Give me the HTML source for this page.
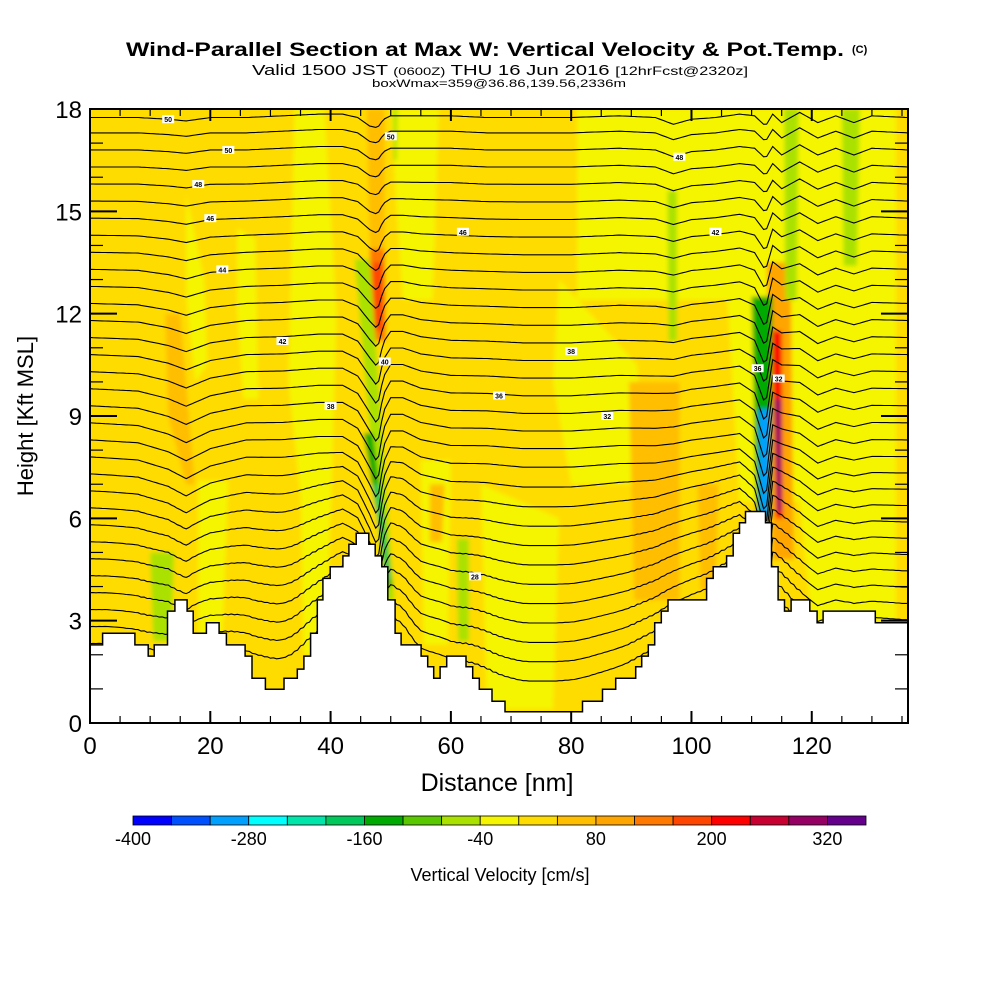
<!DOCTYPE html>
<html><head><meta charset="utf-8"><style>
html,body{margin:0;padding:0;background:#fff;}
svg{display:block;font-family:"Liberation Sans",sans-serif;}
</style></head><body>
<svg id="chart" width="1000" height="1000" viewBox="0 0 1000 1000">
<defs>
<clipPath id="plotclip"><rect x="90" y="109" width="818" height="614"/></clipPath>
<filter id="soft" x="-5%" y="-5%" width="110%" height="110%"><feGaussianBlur stdDeviation="2"/></filter>
</defs>
<g>
<text x="126" y="56" font-size="19" font-weight="bold" textLength="718" lengthAdjust="spacingAndGlyphs">Wind-Parallel Section at Max W: Vertical Velocity &amp; Pot.Temp.</text>
<text x="852" y="53" font-size="11" font-weight="bold">(C)</text>
<text x="252" y="75" font-size="15" textLength="496" lengthAdjust="spacingAndGlyphs">Valid 1500 JST <tspan font-size="11">(0600Z)</tspan> THU 16 Jun 2016 <tspan font-size="12">[12hrFcst@2320z]</tspan></text>
<text x="372" y="87" font-size="11" textLength="254" lengthAdjust="spacingAndGlyphs">boxWmax=359@36.86,139.56,2336m</text>
</g>
<g clip-path="url(#plotclip)">
<g id="field" filter="url(#soft)"></g>
<g id="contours"></g>
<g id="clabels"></g>
<path id="terrain" fill="#fff" stroke="#000" stroke-width="1.5"/>
</g>
<rect x="90" y="109" width="818" height="614" fill="none" stroke="#000" stroke-width="2"/>
<g id="axes"></g>
<text x="497" y="791" font-size="25" text-anchor="middle">Distance [nm]</text>
<text transform="translate(33,416) rotate(-90)" font-size="22" text-anchor="middle">Height [Kft MSL]</text>
<g id="colorbar"></g>
<text x="500" y="881" font-size="18" text-anchor="middle">Vertical Velocity [cm/s]</text>
</svg>
<script>
// ---- data ----
const xTicks = [0,20,40,60,80,100,120];
const yTicks = [0,3,6,9,12,15,18];
const cbBins = [-400,-360,-320,-280,-240,-200,-160,-120,-80,-40,0,40,80,120,160,200,240,280,320];
const cbColors = ["#0000ff","#0050ff","#00a0ff","#00ffff","#00e6aa","#00c85a","#00aa00","#5ac800","#aae100","#f5f500","#ffdc00","#ffbe00","#ffa500","#ff7800","#ff4600","#ff0000","#c80032","#960064","#64008c"];
const cbLabels = [-400,-280,-160,-40,80,200,320];
const terrainNm = [0,2.1,7.47,9.68,10.68,12.89,14.11,16.15,17.15,19.36,21.47,22.68,25.78,26.94,29.16,32.25,34.47,35.57,36.68,37.79,38.73,39.94,42.05,43.04,44.26,46.36,47.41,48.52,49.52,50.73,51.73,55.05,56.15,57.15,58.2,59.31,62.52,63.62,64.73,66.83,68.99,81.88,85.2,87.41,90.73,91.73,92.83,93.89,94.99,96.1,102.52,103.62,105.84,106.94,107.99,108.99,112.31,113.3,114.41,115.46,116.57,119.67,120.89,121.88,130.57];
const terrainKft = [2.29,2.63,2.29,1.96,2.29,3.28,3.61,3.28,2.63,2.94,2.63,2.29,1.96,1.31,0.99,1.31,1.58,1.96,2.63,3.61,4.24,4.58,4.90,5.24,5.56,5.24,4.90,4.58,3.61,2.63,2.29,1.96,1.65,1.31,1.65,1.96,1.65,1.31,0.99,0.64,0.33,0.64,0.99,1.31,1.65,1.96,2.29,2.94,3.28,3.61,4.24,4.58,4.90,5.56,5.87,6.20,5.87,4.58,3.61,3.28,3.61,3.28,2.94,3.28,2.94];
const thetaBase = [2.3,2.8,3.3,3.8,4.3,4.8,5.3,5.8,6.3,6.8,7.3,7.8,8.3,8.8,9.3,9.8,10.3,10.8,11.3,11.8,12.3,12.8,13.3,13.8,14.3,14.8,15.3,15.8,16.3,16.8,17.3,17.75];
const dispNm  = [0,8,13,16,20,26,32,38,42,44.5,46.5,47.8,48.8,50,52,55,60,66,72,80,88,94,97,100,104,108,110.5,112.3,113.5,115,118,121,124,127,130,136];
const dispMid = [0,-0.1,-0.4,-0.7,-0.3,0,0,0.1,0.1,-0.2,-0.9,-1.4,-0.2,0.3,0.3,0,-0.2,-0.2,-0.3,-0.3,-0.2,-0.2,-0.1,0,0.1,0.2,-0.2,-1.4,0.5,0.4,0.2,-0.2,0,-0.1,0,0];
const dispTop = [0,0,-0.05,-0.1,0,0,0.05,0.1,0.1,0,-0.25,-0.3,-0.05,0.05,0.05,0.05,0.05,0,0,0,0.05,0,-0.2,-0.05,0,0.1,0.05,-0.25,0.1,-0.15,0.15,-0.15,0.05,-0.15,0.05,0];
// vertical-velocity patches (nm, kft polygons, w in cm/s)
const patchW   = [-20,-20,-20,-20,-20,-20,-20,-20,-20,-20,-20,-20,60,60,60,60,60,120,180,100,220,300,-140,-320,-60,-140,-200,-60,-60,-60,-60,-60,-60];
const patchNm  = [
 [16,19,19.5,17.5,16],[24.5,27.5,28,25.5,24.5],[34,39,41,40,36,33],[50,58,57,52,51],[78,91,92,80,77],[65,78,77,66],
 [81,134,134,81],[106,134,134,108],[18,23,22,18],[35,40,39.5,35.5],[55,60,59.5,55.5],[118,134,134,120],
 [12.5,15,17.4,16,13],[46,49,49,46.5],[89.6,98,98,90.5],[101,104.5,104,101.5],[56.5,59,58.5,56.5],
 [46.5,49,49.2,47],[47,48.6,48.8,47.3],[112.5,116.5,117,113.5],[113.4,115,115.2,114],[113.8,114.9,115,114.2],
 [110,113.5,113.2,110.8],[111.2,113,112.7,111.4],
 [44,46.5,50.6,49],[45.5,47,50.3,49.5],[47,48,50,49.4],[10,14,13.5,10.5],[61,63,63,61.2],[96,97.6,97.6,96.2],[115.4,117.8,117.5,115.6],[125,128,127.5,125.3],[50.4,51.1,51,50.5]];
const patchKft = [
 [15.5,13,10.5,10,12.5],[14.5,14.2,9.5,9.5,12],[18,18,12,6,5,10],[18,18,12.4,12.4,15],[13,10.5,7,7,10],[7,6,0.4,0.4],
 [18,18,12.4,12.4],[12.4,12.4,6.5,6.5],[7.1,7.1,2.4,2.4],[7,7,2,2],[7.7,7.7,2.3,2.3],[6.5,6.5,3,3],
 [12,12,7,7,9],[18,18,13.9,13.9],[10,10,3.6,3.6],[7,7,3.9,3.9],[7,7,5.3,5.3],
 [13.9,13.9,11.2,11.2],[13.5,13.5,11.5,11.5],[13.5,13.5,4.8,4.8],[11.5,11.5,6,6],[9.5,9.5,6.2,6.2],
 [12.5,12.5,6,6],[9.2,9.2,6,6],
 [13.6,13.6,3.6,3.6],[8.5,8.5,4,4],[7,7,4.2,4.2],[5,5,2.4,2.4],[5.4,5.4,2.4,2.4],[15.6,15.6,11.2,11.2],[18,18,12.4,12.4],[18,18,13.4,13.4],[18,18,16.5,16.5]];
const labelNm  = [13,23,18,20,22,32,40,50,62,68,80,86,98,104,111,114.5,49,64];
const labelKft = [17.7,16.8,15.8,14.8,13.3,11.2,9.3,17.2,14.4,9.6,10.9,9.0,16.6,14.4,10.4,10.1,10.6,4.3];
const labelTxt = ["50","50","48","46","44","42","38","50","46","36","38","32","48","42","36","32","40","28"];

// ---- scales ----
const X0=90,X1=908,Y0=723,Y1=109,NMAX=136,KMAX=18;
const sx = nm => X0 + nm*(X1-X0)/NMAX;
const sy = k => Y0 - k*(Y0-Y1)/KMAX;
const NS="http://www.w3.org/2000/svg";
function mk(tag, parent){const e=document.createElementNS(NS,tag);parent.appendChild(e);return e;}
function colorFor(w){let i=0;for(let j=0;j<cbBins.length;j++){if(w>=cbBins[j])i=j;}return cbColors[i];}
function interp(xs,ys,x){if(x<=xs[0])return ys[0];for(let i=1;i<xs.length;i++){if(x<=xs[i]){const t=(x-xs[i-1])/(xs[i]-xs[i-1]);return ys[i-1]+t*(ys[i]-ys[i-1]);}}return ys[ys.length-1];}
function terrainAt(x){let k=terrainKft[0];for(let i=0;i<terrainNm.length;i++){if(x>=terrainNm[i])k=terrainKft[i];}return k;}

// ---- field ----
const field=document.getElementById('field');
const bg=mk('rect',field);


bg.setAttribute('x',sx(0)-5);bg.setAttribute('y',sy(KMAX)-5);bg.setAttribute('width',sx(NMAX)-sx(0)+10);bg.setAttribute('height',sy(0)-sy(KMAX)+10);
bg.setAttribute('fill',colorFor(20));
for(let p=0;p<patchW.length;p++){
  const poly=mk('polygon',field);
  
  
  poly.setAttribute('points',patchNm[p].map((n,i)=>sx(n).toFixed(1)+','+sy(patchKft[p][i]).toFixed(1)).join(' '));
  poly.setAttribute('fill',colorFor(patchW[p]));
}

// ---- contours ----
const cg=document.getElementById('contours');
function smoothTerrain(x){let s=0,n=0;for(let d=-4;d<=4;d+=1){s+=terrainAt(Math.min(NMAX,Math.max(0,x+d)));n++;}return s/n;}
thetaBase.forEach(b=>{
  const pts=[];
  const f = Math.min(1,Math.max(0,(b-7)/9));
  const kT = Math.max(0,(8-b)/8)*0.55;
  for(let x=0;x<=NMAX+0.01;x+=0.5){
    const d = interp(dispNm,dispMid,x)*(1-f)+interp(dispNm,dispTop,x)*f;
    const z = b + d + kT*(smoothTerrain(x)-2.3);
    pts.push(sx(x).toFixed(1)+','+sy(z).toFixed(1));
  }
  const pl=mk('polyline',cg);
  
  
  pl.setAttribute('points',pts.join(' '));
  pl.setAttribute('fill','none');pl.setAttribute('stroke','#000');pl.setAttribute('stroke-width','1.1');
});
const lg=document.getElementById('clabels');
labelNm.forEach((n,i)=>{
  const r=mk('rect',lg);
  
  
  r.setAttribute('x',sx(n)-6);r.setAttribute('y',sy(labelKft[i])-4);r.setAttribute('width',12);r.setAttribute('height',8);r.setAttribute('fill','#fff');
  const t=mk('text',lg);
  
  
  t.setAttribute('x',sx(n));t.setAttribute('y',sy(labelKft[i])+3);t.setAttribute('font-size','7');t.setAttribute('font-weight','bold');t.setAttribute('text-anchor','middle');
  t.textContent=labelTxt[i];
});

// ---- terrain ----
let d='M'+sx(0)+','+(sy(0)+5);
for(let i=0;i<terrainNm.length;i++){
  const x0=sx(terrainNm[i]), x1=sx(i+1<terrainNm.length?terrainNm[i+1]:NMAX+1);
  d+=' L'+x0.toFixed(1)+','+sy(terrainKft[i]).toFixed(1)+' L'+x1.toFixed(1)+','+sy(terrainKft[i]).toFixed(1);
}
d+=' L'+(sx(NMAX)+5)+','+(sy(0)+5)+' Z';
document.getElementById('terrain').setAttribute('d',d);

// ---- axes ----
const ax=document.getElementById('axes');
function line(x1,y1,x2,y2,w,name){const l=mk('line',ax);l.setAttribute('x1',x1);l.setAttribute('y1',y1);l.setAttribute('x2',x2);l.setAttribute('y2',y2);l.setAttribute('stroke','#000');l.setAttribute('stroke-width',w);}
for(let n=0;n<=NMAX;n+=5){
  const major=n%20===0; const L=major?12:7;
  line(sx(n),Y0,sx(n),Y0-L,major?2:1.2,'x-tick');
  line(sx(n),Y1,sx(n),Y1+L,major?2:1.2,'x-tick-top');
}
for(let k=0;k<=KMAX;k++){
  const major=k%3===0; const L=major?27:13;
  line(X0,sy(k),X0+L,sy(k),major?2:1.2,'y-tick');
  line(X1,sy(k),X1-L,sy(k),major?2:1.2,'y-tick-right');
}
xTicks.forEach(v=>{const t=mk('text',ax);
  
  
  t.setAttribute('x',sx(v));t.setAttribute('y',754);t.setAttribute('font-size','24');t.setAttribute('text-anchor','middle');t.textContent=v;});
yTicks.forEach(v=>{const t=mk('text',ax);
  
  
  t.setAttribute('x',82);t.setAttribute('y',sy(v)+9);t.setAttribute('font-size','24');t.setAttribute('text-anchor','end');t.textContent=v;});

// ---- colorbar ----
const cb=document.getElementById('colorbar');
const CB0=133,CB1=866,CBW=(CB1-CB0)/cbBins.length;
const cbx = v => CB0 + (v-cbBins[0])/40*CBW;
cbBins.forEach((b,i)=>{const r=mk('rect',cb);
  
  
  r.setAttribute('x',cbx(b));r.setAttribute('y',816);r.setAttribute('width',CBW);r.setAttribute('height',9);r.setAttribute('fill',cbColors[i]);r.setAttribute('stroke','#000');r.setAttribute('stroke-width','0.8');});
cbLabels.forEach(v=>{const t=mk('text',cb);
  
  
  t.setAttribute('x',cbx(v));t.setAttribute('y',845);t.setAttribute('font-size','18');t.setAttribute('text-anchor','middle');t.textContent=v;});
</script>
</body></html>
